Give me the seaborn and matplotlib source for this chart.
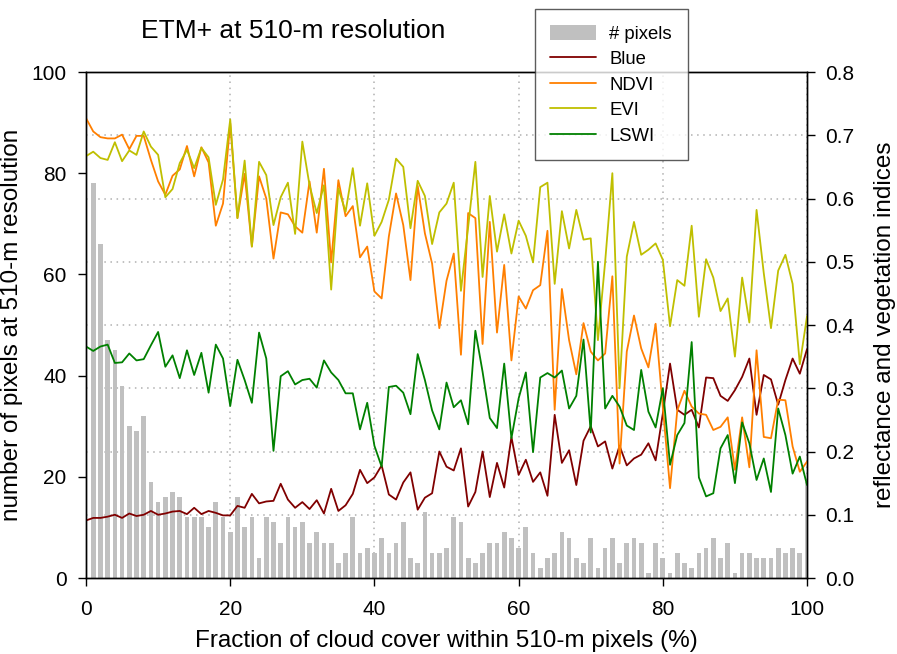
import numpy as np
import pandas as pd
import matplotlib
matplotlib.use("Agg")
import matplotlib.pyplot as plt
import seaborn as sns
from matplotlib.patches import Patch
from matplotlib.lines import Line2D
from matplotlib.ticker import MultipleLocator, FormatStrFormatter

# cloud-cover fraction (%) of each 510-m pixel class
cloud = list(range(0, 101))

# number of 510-m pixels in each cloud-cover class
n_pixels = [0, 78, 66, 47, 45, 38, 30, 29, 32, 19,
            15, 16, 17, 16, 12, 12, 12, 10, 15, 12,
            9, 16, 10, 12, 4, 12, 11, 7, 12, 10,
            11, 7, 9, 7, 7, 3, 5, 12, 5, 6,
            5, 8, 5, 7, 11, 4, 3, 13, 5, 5,
            6, 12, 11, 4, 3, 5, 7, 7, 9, 8,
            6, 10, 5, 2, 4, 5, 9, 8, 4, 3,
            8, 2, 6, 8, 3, 7, 8, 7, 1, 7,
            4, 1, 5, 3, 2, 5, 6, 8, 4, 7,
            1, 5, 5, 4, 4, 4, 6, 5, 6, 5,
            19]

blue = [0.091, 0.095, 0.095, 0.097, 0.100, 0.095, 0.102, 0.098, 0.100, 0.106,
        0.100, 0.102, 0.105, 0.106, 0.101, 0.111, 0.101, 0.106, 0.103, 0.099,
        0.099, 0.114, 0.111, 0.133, 0.118, 0.121, 0.122, 0.149, 0.124, 0.111,
        0.120, 0.109, 0.123, 0.102, 0.141, 0.106, 0.115, 0.133, 0.171, 0.150,
        0.159, 0.178, 0.132, 0.124, 0.151, 0.167, 0.108, 0.127, 0.134, 0.200,
        0.176, 0.170, 0.205, 0.113, 0.136, 0.200, 0.128, 0.182, 0.143, 0.223,
        0.163, 0.187, 0.152, 0.167, 0.130, 0.258, 0.182, 0.202, 0.147, 0.217,
        0.240, 0.208, 0.216, 0.173, 0.209, 0.178, 0.189, 0.195, 0.213, 0.186,
        0.260, 0.339, 0.266, 0.258, 0.266, 0.238, 0.317, 0.316, 0.288, 0.280,
        0.297, 0.318, 0.347, 0.258, 0.321, 0.314, 0.274, 0.313, 0.347, 0.323,
        0.362]

ndvi = [0.727, 0.706, 0.697, 0.695, 0.695, 0.701, 0.678, 0.699, 0.699, 0.661,
        0.627, 0.606, 0.636, 0.646, 0.683, 0.635, 0.681, 0.657, 0.557, 0.592,
        0.719, 0.569, 0.639, 0.524, 0.635, 0.600, 0.505, 0.578, 0.575, 0.556,
        0.546, 0.627, 0.546, 0.647, 0.499, 0.629, 0.572, 0.588, 0.507, 0.524,
        0.453, 0.442, 0.540, 0.608, 0.558, 0.471, 0.620, 0.545, 0.497, 0.395,
        0.470, 0.513, 0.353, 0.577, 0.569, 0.370, 0.563, 0.388, 0.495, 0.344,
        0.445, 0.426, 0.455, 0.463, 0.549, 0.266, 0.457, 0.376, 0.322, 0.403,
        0.358, 0.344, 0.355, 0.477, 0.181, 0.358, 0.415, 0.363, 0.333, 0.402,
        0.270, 0.142, 0.265, 0.296, 0.271, 0.260, 0.258, 0.234, 0.239, 0.254,
        0.171, 0.254, 0.175, 0.360, 0.223, 0.221, 0.282, 0.281, 0.208, 0.168,
        0.184]

evi = [0.667, 0.674, 0.664, 0.661, 0.689, 0.659, 0.676, 0.669, 0.706, 0.682,
       0.669, 0.602, 0.615, 0.656, 0.677, 0.648, 0.680, 0.665, 0.590, 0.630,
       0.725, 0.569, 0.660, 0.524, 0.658, 0.637, 0.558, 0.602, 0.625, 0.544,
       0.690, 0.621, 0.577, 0.621, 0.456, 0.616, 0.579, 0.648, 0.557, 0.624,
       0.541, 0.563, 0.598, 0.663, 0.650, 0.553, 0.628, 0.604, 0.528, 0.578,
       0.592, 0.625, 0.454, 0.555, 0.658, 0.476, 0.604, 0.516, 0.575, 0.513,
       0.565, 0.541, 0.499, 0.618, 0.625, 0.465, 0.580, 0.521, 0.582, 0.535,
       0.537, 0.376, 0.500, 0.640, 0.300, 0.508, 0.563, 0.511, 0.519, 0.529,
       0.503, 0.398, 0.471, 0.462, 0.557, 0.413, 0.504, 0.475, 0.422, 0.442,
       0.350, 0.475, 0.404, 0.582, 0.482, 0.395, 0.486, 0.511, 0.465, 0.338,
       0.414]

lswi = [0.366, 0.359, 0.366, 0.369, 0.340, 0.341, 0.355, 0.344, 0.346, 0.368,
        0.389, 0.334, 0.352, 0.316, 0.360, 0.321, 0.356, 0.293, 0.369, 0.347,
        0.272, 0.345, 0.313, 0.277, 0.388, 0.347, 0.201, 0.319, 0.327, 0.306,
        0.313, 0.315, 0.301, 0.344, 0.325, 0.313, 0.292, 0.292, 0.235, 0.277,
        0.209, 0.176, 0.302, 0.304, 0.293, 0.259, 0.354, 0.313, 0.265, 0.235,
        0.309, 0.270, 0.281, 0.243, 0.391, 0.326, 0.253, 0.237, 0.339, 0.221,
        0.284, 0.325, 0.199, 0.317, 0.324, 0.317, 0.328, 0.268, 0.288, 0.377,
        0.230, 0.500, 0.268, 0.288, 0.271, 0.241, 0.234, 0.329, 0.263, 0.238,
        0.300, 0.179, 0.226, 0.245, 0.373, 0.159, 0.129, 0.134, 0.205, 0.226,
        0.150, 0.246, 0.213, 0.155, 0.189, 0.136, 0.268, 0.226, 0.165, 0.192,
        0.147]

series_names = ["Blue", "NDVI", "EVI", "LSWI"]
series_values = [blue, ndvi, evi, lswi]
series_colors = ["#800000", "#ff7f00", "#bfbf00", "#008000"]
bar_color = "#c0c0c0"

sns.set_style("white")
plt.rcParams["font.family"] = ["Liberation Sans", "DejaVu Sans"]
plt.rcParams.update({
    "axes.edgecolor": "black",
    "axes.linewidth": 1.0,
    "text.color": "black",
    "axes.labelcolor": "black",
    "xtick.color": "black",
    "ytick.color": "black",
})

fig = plt.figure(figsize=(8.97, 6.54), dpi=100)
ax = fig.add_axes([0.0959, 0.1162, 0.8038, 0.7737])

# histogram of pixel counts on the left axis
bars_df = pd.DataFrame({"cloud": cloud, "count": n_pixels})
sns.barplot(data=bars_df, x="cloud", y="count", native_scale=True,
            width=0.65, color=bar_color, saturation=1, edgecolor="none",
            ax=ax, zorder=2)
ax.set_xlim(0, 100)
ax.set_ylim(0, 100)
ax.xaxis.set_major_locator(MultipleLocator(20))
ax.yaxis.set_major_locator(MultipleLocator(20))
# horizontal grid follows the right-axis ticks (every 0.1 = 12.5 counts)
ax.yaxis.set_minor_locator(MultipleLocator(12.5))
ax.tick_params(axis="y", which="minor", length=0)
ax.set_axisbelow(True)
grid_kw = dict(color="#b0b0b0", linestyle=(0, (1, 3)), linewidth=1.1)
ax.grid(axis="x", which="major", **grid_kw)
ax.grid(axis="y", which="minor", **grid_kw)
ax.grid(axis="y", which="major", visible=False)
ax.tick_params(axis="both", which="major", direction="out", length=6,
               width=1, labelsize=15, left=True, bottom=True)
ax.tick_params(axis="x", pad=10)
ax.tick_params(axis="y", pad=8)
ax.set_xlabel("Fraction of cloud cover within 510-m pixels (%)", fontsize=17.5,
              labelpad=8)
ax.set_ylabel("number of pixels at 510-m resolution", fontsize=17.5,
              labelpad=6)

# reflectance and vegetation indices on the right axis
ax2 = ax.twinx()
for name, vals, col in zip(series_names, series_values, series_colors):
    sns.lineplot(x=cloud, y=vals, color=col, linewidth=1.3, ax=ax2,
                 label=name, legend=False)
ax2.set_ylim(0, 0.8)
ax2.set_xlim(0, 100)
ax2.yaxis.set_major_locator(MultipleLocator(0.1))
ax2.yaxis.set_major_formatter(FormatStrFormatter("%.1f"))
ax2.tick_params(axis="y", direction="out", length=6, width=1, labelsize=15,
                right=True, pad=7)
ax2.set_ylabel("reflectance and vegetation indices", fontsize=17.5,
               labelpad=14)
ax2.grid(False)
for s in ax2.spines.values():
    s.set_color("black")

fig.text(0.327, 0.953, "ETM+ at 510-m resolution", fontsize=19,
         ha="center", va="center")

handles = [Patch(facecolor=bar_color, edgecolor="none", label="# pixels")]
handles += [Line2D([], [], color=c, lw=1.3, label=n)
            for n, c in zip(series_names, series_colors)]
leg = fig.legend(handles=handles, loc="upper left",
                 bbox_to_anchor=(0.596, 0.986), frameon=True, fancybox=False,
                 edgecolor="#333333", fontsize=13.3, handlelength=2.5,
                 handleheight=0.9, labelspacing=0.4, borderpad=0.85,
                 handletextpad=0.7, borderaxespad=0)
leg.get_frame().set_linewidth(1.0)

fig.savefig("out.png", dpi=100)
